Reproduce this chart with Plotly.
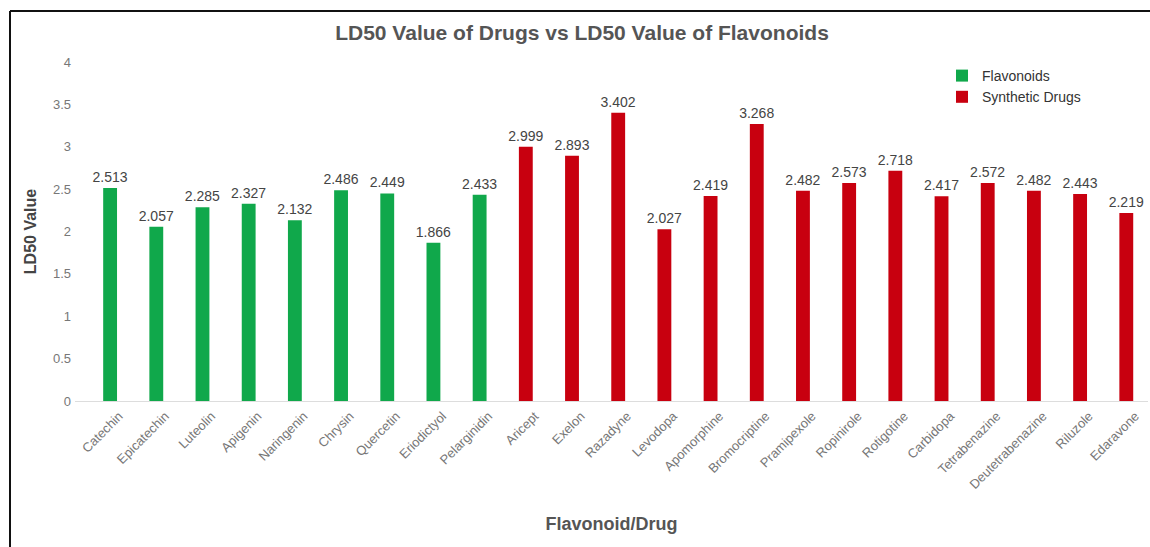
import plotly.graph_objects as go

# LD50 values (log scale units) for flavonoids and synthetic drugs
flavonoids = ["Catechin", "Epicatechin", "Luteolin", "Apigenin", "Naringenin",
              "Chrysin", "Quercetin", "Eriodictyol", "Pelarginidin"]
flavonoid_ld50 = [2.513, 2.057, 2.285, 2.327, 2.132, 2.486, 2.449, 1.866, 2.433]

drugs = ["Aricept", "Exelon", "Razadyne", "Levodopa", "Apomorphine", "Bromocriptine",
         "Pramipexole", "Ropinirole", "Rotigotine", "Carbidopa", "Tetrabenazine",
         "Deutetrabenazine", "Riluzole", "Edaravone"]
drug_ld50 = [2.999, 2.893, 3.402, 2.027, 2.419, 3.268, 2.482, 2.573, 2.718,
             2.417, 2.572, 2.482, 2.443, 2.219]

y_ticks = [0, 0.5, 1, 1.5, 2, 2.5, 3, 3.5, 4]

GREEN = "#10a84b"
RED = "#c8000f"
FONT = "Liberation Sans, Arial, sans-serif"

W, H = 1150, 547
L, R, T, B = 75, 2, 62, 146

fig = go.Figure()
for names, vals, label, color in [
    (flavonoids, flavonoid_ld50, "Flavonoids", GREEN),
    (drugs, drug_ld50, "Synthetic Drugs", RED),
]:
    fig.add_trace(go.Bar(
        x=names, y=vals, name=label,
        marker=dict(color=color, line=dict(width=0)),
        width=0.30,
        text=[f"{v:.3f}" for v in vals], textposition="outside",
        textfont=dict(size=14, color="#444", family=FONT),
        constraintext="none", cliponaxis=False,
    ))

plot_w = W - L - R
plot_h = H - T - B

# outer frame: left and top edges (the rest runs off the page)
fx = (10 - L) / plot_w
fy = (H - B - 11) / plot_h
for x0, y0, x1, y1 in [(fx, fy, fx, -1.0), (fx, fy, 2.0, fy)]:
    fig.add_shape(type="line", xref="paper", yref="paper",
                  x0=x0, y0=y0, x1=x1, y1=y1,
                  line=dict(color="#111", width=2), layer="below")

fig.update_layout(
    width=W, height=H,
    margin=dict(l=L, r=R, t=T, b=B, pad=0, autoexpand=False),
    paper_bgcolor="white", plot_bgcolor="white",
    barmode="overlay",
    font=dict(family=FONT, color="#666"),
    title=dict(
        text="<b>LD50 Value of Drugs vs LD50 Value of Flavonoids</b>",
        x=582 / W, xanchor="center", y=1 - 33 / H, yanchor="middle",
        font=dict(size=21, color="#555", family=FONT),
    ),
    legend=dict(
        x=(942 - L) / plot_w, y=(H - B - 60) / plot_h,
        xanchor="left", yanchor="top",
        font=dict(size=14, color="#333", family=FONT),
        bgcolor="rgba(0,0,0,0)", itemwidth=30, tracegroupgap=0,
    ),
    showlegend=True,
    xaxis=dict(
        categoryorder="array", categoryarray=flavonoids + drugs,
        range=[-0.76, 22.47], automargin=False,
        tickangle=-45, tickfont=dict(size=13, color="#777", family=FONT),
        ticklabelshift=9, ticklabelstandoff=4,
        showgrid=False, showline=False, ticks="", zeroline=False,
        title=dict(text="<b>Flavonoid/Drug</b>", standoff=26,
                   font=dict(size=18, color="#555", family=FONT)),
    ),
    yaxis=dict(
        range=[0, 4], tickvals=y_ticks, ticktext=[f"{t:g}" for t in y_ticks],
        automargin=False,
        tickfont=dict(size=13, color="#777", family=FONT),
        showgrid=False, zeroline=True, zerolinecolor="#ddd", zerolinewidth=1,
        showline=False, ticks="", ticklabelstandoff=3,
        title=dict(text="<b>LD50 Value</b>", standoff=12,
                   font=dict(size=16, color="#444", family=FONT)),
    ),
)

fig.write_html("out.html")
